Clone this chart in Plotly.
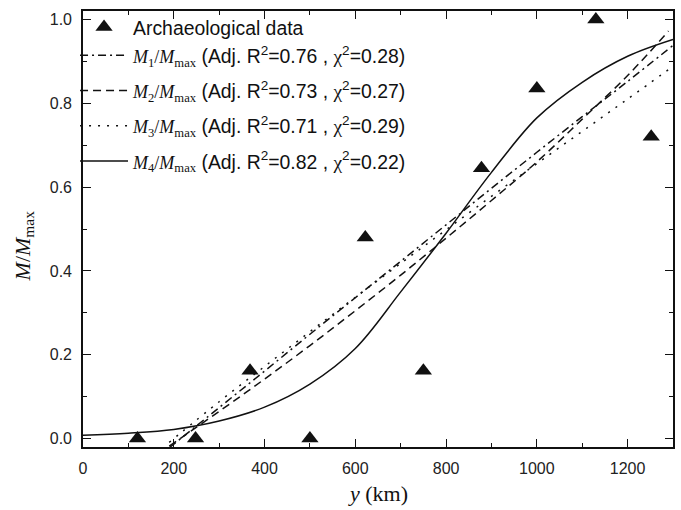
import plotly.graph_objects as go

# Archaeological data
data_x = [120, 248, 368, 500, 622, 750, 878, 1000, 1130, 1252]
data_y = [0.0, 0.0, 0.162, 0.0, 0.48, 0.162, 0.645, 0.835, 1.0, 0.72]

# Fitted curves
m1_x = [190, 300, 400, 500, 600, 700, 800, 900, 1000, 1100, 1200, 1300]
m1_y = [-0.022, 0.074, 0.161, 0.249, 0.336, 0.423, 0.510, 0.597, 0.683, 0.768, 0.852, 0.938]

m2_x = [190, 300, 400, 500, 600, 700, 800, 900, 1000, 1100, 1200, 1290]
m2_y = [-0.018, 0.065, 0.142, 0.222, 0.305, 0.390, 0.478, 0.568, 0.660, 0.762, 0.866, 0.972]

m3_x = [190, 300, 400, 500, 600, 700, 800, 900, 1000, 1100, 1200, 1300]
m3_y = [-0.009, 0.088, 0.172, 0.255, 0.337, 0.418, 0.498, 0.578, 0.656, 0.733, 0.810, 0.888]

m4_x = [0, 100, 200, 300, 400, 500, 600, 700, 800, 900, 1000, 1100, 1200, 1300]
m4_y = [0.008, 0.013, 0.022, 0.042, 0.075, 0.130, 0.215, 0.350, 0.490, 0.635, 0.765, 0.850, 0.912, 0.952]

x_ticks = [0, 200, 400, 600, 800, 1000, 1200]
y_ticks = [0.0, 0.2, 0.4, 0.6, 0.8, 1.0]

SERIF = "Liberation Serif"
SANS = "Liberation Sans"
INK = "#111111"


def label(i, r2, chi2):
    return (f'<span style="font-family:{SERIF};font-size:18px"><i>M</i><sub>{i}</sub>/<i>M</i><sub>max</sub></span>'
            f' (Adj. R<sup>2</sup>={r2} , '
            f'<span style="font-family:{SERIF}">χ</span><sup>2</sup>={chi2})')


fig = go.Figure()
fig.add_trace(go.Scatter(
    x=data_x, y=data_y, mode="markers", name="Archaeological data",
    marker=dict(symbol="triangle-up", size=15, color=INK),
    legendgroup="a", cliponaxis=False))
fig.add_trace(go.Scatter(
    x=m1_x, y=m1_y, mode="lines", name=label(1, "0.76", "0.28"), legendgroup="a",
    line=dict(color=INK, width=1.5, dash="8px,4px,2px,4px", shape="spline")))
fig.add_trace(go.Scatter(
    x=m2_x, y=m2_y, mode="lines", name=label(2, "0.73", "0.27"), legendgroup="c",
    line=dict(color=INK, width=1.5, dash="8px,5px", shape="spline")))
fig.add_trace(go.Scatter(
    x=m3_x, y=m3_y, mode="lines", name=label(3, "0.71", "0.29"), legendgroup="d",
    line=dict(color=INK, width=1.5, dash="2px,7px", shape="spline")))
fig.add_trace(go.Scatter(
    x=m4_x, y=m4_y, mode="lines", name=label(4, "0.82", "0.22"), legendgroup="e",
    line=dict(color=INK, width=1.5, shape="spline")))

axis_common = dict(
    showgrid=False, zeroline=False, showline=True, linecolor=INK, linewidth=1.6,
    ticks="inside", ticklen=8, tickwidth=1.3, tickcolor=INK, mirror="allticks",
    tickfont=dict(family=SANS, size=16, color="#222222"),
)

fig.update_xaxes(
    range=[0, 1300], tickvals=x_ticks, ticktext=[str(v) for v in x_ticks],
    minor=dict(ticks="inside", ticklen=4, tickwidth=1.2, tickcolor=INK, dtick=100, tick0=0),
    ticklabelstandoff=6, **axis_common)
fig.update_yaxes(
    range=[-0.02, 1.02], tickvals=y_ticks, ticktext=[f"{v:.1f}" for v in y_ticks],
    minor=dict(ticks="inside", ticklen=4, tickwidth=1.2, tickcolor=INK, dtick=0.1, tick0=0),
    ticklabelstandoff=6, **axis_common)

fig.add_annotation(
    text='<i>y</i> (km)',
    xref="paper", yref="paper", x=0.5, y=0, yshift=-46, showarrow=False,
    font=dict(family=SERIF, size=22, color=INK), xanchor="center", yanchor="middle")
fig.add_annotation(
    text='<i>M</i>/<i>M</i><sub>max</sub>',
    xref="paper", yref="paper", x=0, y=0.46, xshift=-59, showarrow=False, textangle=-90,
    font=dict(family=SERIF, size=22, color=INK), xanchor="center", yanchor="middle")

fig.update_layout(
    width=681, height=510,
    margin=dict(l=83, r=6, t=11, b=63),
    paper_bgcolor="white", plot_bgcolor="white",
    showlegend=True,
    legend=dict(
        x=-0.0135, y=1.007, xanchor="left", yanchor="top",
        bgcolor="rgba(0,0,0,0)", borderwidth=0,
        font=dict(family=SANS, size=19.4, color=INK),
        itemwidth=48, tracegroupgap=7, traceorder="grouped",
    ),
)

fig.write_html("out.html", config={"displayModeBar": False},
               post_script="document.body.style.margin='0';")
